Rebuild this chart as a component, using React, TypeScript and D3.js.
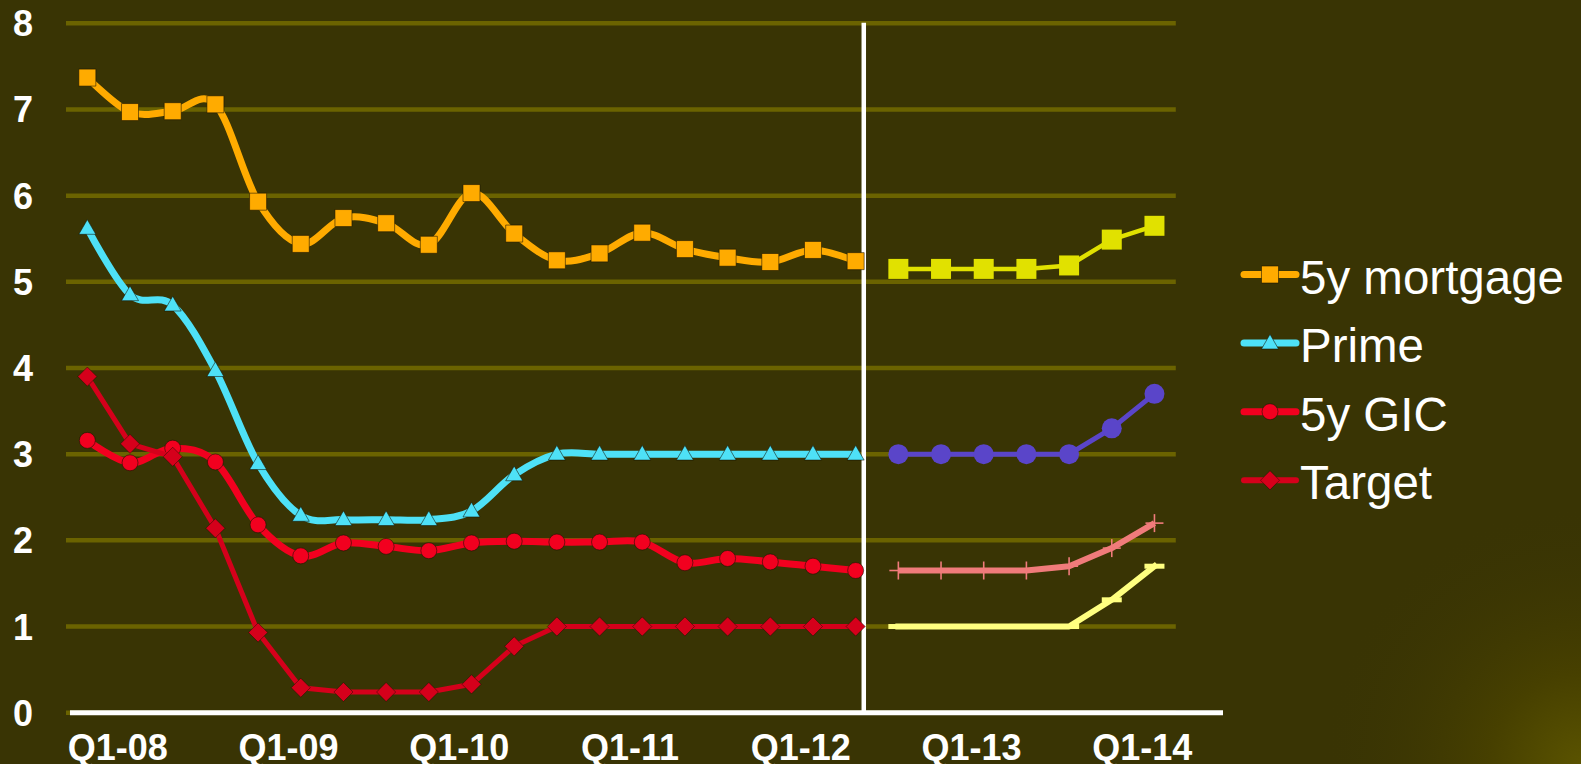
import React from 'react';
import * as d3 from 'd3';

const W = 1581;
const H = 764;

const categories = [
  'Q1-08','Q2-08','Q3-08','Q4-08',
  'Q1-09','Q2-09','Q3-09','Q4-09',
  'Q1-10','Q2-10','Q3-10','Q4-10',
  'Q1-11','Q2-11','Q3-11','Q4-11',
  'Q1-12','Q2-12','Q3-12','Q4-12',
  'Q1-13','Q2-13','Q3-13','Q4-13',
  'Q1-14','Q2-14',
];
const xTickLabels = ['Q1-08','Q1-09','Q1-10','Q1-11','Q1-12','Q1-13','Q1-14'];
const yTicks = [0, 1, 2, 3, 4, 5, 6, 7, 8];

// Historical (Q1-08 .. Q3-12)
const mortgage = [7.37, 6.97, 6.98, 7.06, 5.93, 5.44, 5.74, 5.68, 5.43, 6.03, 5.56, 5.25, 5.33, 5.57, 5.38, 5.28, 5.23, 5.37, 5.24];
const prime = [5.62, 4.85, 4.73, 3.97, 2.89, 2.29, 2.24, 2.24, 2.24, 2.34, 2.76, 3.0, 3.0, 3.0, 3.0, 3.0, 3.0, 3.0, 3.0];
const gic = [3.16, 2.9, 3.07, 2.91, 2.18, 1.82, 1.97, 1.93, 1.88, 1.97, 1.99, 1.98, 1.98, 1.98, 1.74, 1.79, 1.75, 1.7, 1.65];
const target = [3.9, 3.12, 2.97, 2.14, 0.93, 0.29, 0.24, 0.24, 0.24, 0.33, 0.77, 1.0, 1.0, 1.0, 1.0, 1.0, 1.0, 1.0, 1.0];

// Forecast (Q4-12 .. Q2-14)
const mortgageFcst = [5.15, 5.15, 5.15, 5.15, 5.19, 5.49, 5.65];
const primeFcst = [3.0, 3.0, 3.0, 3.0, 3.0, 3.3, 3.7];
const gicFcst = [1.65, 1.65, 1.65, 1.65, 1.7, 1.91, 2.2];
const targetFcst = [1.0, 1.0, 1.0, 1.0, 1.0, 1.31, 1.7];

const legendLabels = ['5y mortgage', 'Prime', '5y GIC', 'Target'];

const FONT = '"Liberation Sans", Arial, sans-serif';
const BG = '#393404';
const GRID = '#6b6300';

const C_MORT = '#ffab00';
const C_PRIME = '#4ee1f7';
const C_GIC = '#f2001f';
const C_TARGET = '#d5001b';
const C_MORT_F = '#e1e100';
const C_PRIME_F = '#5a45c9';
const C_GIC_F = '#f07b7b';
const C_TARGET_F = '#ffff80';

const x = d3.scaleBand<string>().domain(categories).range([66, 1175.8]).padding(0);
const bw = x.bandwidth();
const xc = (c: string) => (x(c) as number) + bw / 2;
const y = d3.scaleLinear().domain([0, 8]).range([712.7, 23.3]);

type Pt = { c: string; v: number };
const hist = (arr: number[]): Pt[] => arr.map((v, i) => ({ c: categories[i], v }));
const fcst = (arr: number[]): Pt[] => arr.map((v, i) => ({ c: categories[mortgage.length + i], v }));

const smoothLine = d3.line<Pt>().x(d => xc(d.c)).y(d => y(d.v)).curve(d3.curveCardinal.tension(0));
const straightLine = d3.line<Pt>().x(d => xc(d.c)).y(d => y(d.v));

const sq = (side: number) => d3.symbol().type(d3.symbolSquare).size(side * side)() as string;
const tri = (side: number) => d3.symbol().type(d3.symbolTriangle).size((side * side * Math.sqrt(3)) / 4)() as string;
const circ = (r: number) => d3.symbol().type(d3.symbolCircle).size(Math.PI * r * r)() as string;

const MARK_STROKE = 'rgba(20,16,0,0.55)';

function Marker({ kind, color, cx, cy, big }: { kind: string; color: string; cx: number; cy: number; big?: boolean }) {
  if (kind === 'square') {
    return <path d={sq(big ? 20 : 17)} transform={`translate(${cx},${cy})`} fill={color} stroke={big ? 'none' : MARK_STROKE} strokeWidth={1} />;
  }
  if (kind === 'triangle') {
    return <path d={tri(big ? 15 : 17)} transform={`translate(${cx},${cy + 1})`} fill={color} stroke={MARK_STROKE} strokeWidth={1} />;
  }
  if (kind === 'circle') {
    return <path d={circ(big ? 10 : 8)} transform={`translate(${cx},${cy})`} fill={color} stroke={big ? 'none' : MARK_STROKE} strokeWidth={1} />;
  }
  if (kind === 'diamond') {
    return <path d={sq(13.5)} transform={`translate(${cx},${cy}) rotate(45)`} fill={color} stroke={MARK_STROKE} strokeWidth={0.8} />;
  }
  if (kind === 'plus') {
    return (
      <g transform={`translate(${cx},${cy})`} stroke={color} strokeWidth={1.6}>
        <line x1={-9} x2={9} y1={0} y2={0} />
        <line x1={0} x2={0} y1={-9} y2={9} />
      </g>
    );
  }
  if (kind === 'dash') {
    return <rect x={cx - 10} y={cy - 2.5} width={20} height={5} fill={color} />;
  }
  return null;
}

type Series = { data: Pt[]; color: string; width: number; smooth: boolean; kind: string; big?: boolean };

const seriesList: Series[] = [
  { data: hist(mortgage), color: C_MORT, width: 7, smooth: true, kind: 'square' },
  { data: hist(prime), color: C_PRIME, width: 7, smooth: true, kind: 'triangle' },
  { data: hist(gic), color: C_GIC, width: 7, smooth: true, kind: 'circle' },
  { data: hist(target), color: C_TARGET, width: 5, smooth: false, kind: 'diamond' },
  { data: fcst(mortgageFcst), color: C_MORT_F, width: 4.5, smooth: false, kind: 'square', big: true },
  { data: fcst(primeFcst), color: C_PRIME_F, width: 5, smooth: false, kind: 'circle', big: true },
  { data: fcst(gicFcst), color: C_GIC_F, width: 6, smooth: false, kind: 'plus' },
  { data: fcst(targetFcst), color: C_TARGET_F, width: 6, smooth: false, kind: 'dash' },
];

const legendItems = [
  { label: legendLabels[0], color: C_MORT, kind: 'square' },
  { label: legendLabels[1], color: C_PRIME, kind: 'triangle' },
  { label: legendLabels[2], color: C_GIC, kind: 'circle' },
  { label: legendLabels[3], color: C_TARGET, kind: 'diamond' },
];

export default function App() {
  React.useEffect(() => {
    document.body.style.margin = '0';
    document.body.style.overflow = 'hidden';
  }, []);

  const sepX = xc(categories[mortgage.length - 1]) + bw * 0.19;

  return (
    <svg width={W} height={H} style={{ position: 'absolute', left: 0, top: 0, display: 'block' }} xmlns="http://www.w3.org/2000/svg">
      <defs>
        <radialGradient id="glow" cx={W} cy={H} r={260} gradientUnits="userSpaceOnUse">
          <stop offset="0" stopColor="#5a5300" />
          <stop offset="0.35" stopColor="#474000" />
          <stop offset="1" stopColor={BG} stopOpacity={0} />
        </radialGradient>
      </defs>
      <rect x={0} y={0} width={W} height={H} fill={BG} />
      <rect x={0} y={0} width={W} height={H} fill="url(#glow)" />

      {/* gridlines */}
      {yTicks.map(t => (
        <line key={t} x1={x.range()[0]} x2={x.range()[1]} y1={y(t)} y2={y(t)} stroke={GRID} strokeWidth={4.5} />
      ))}

      {/* y tick labels */}
      {yTicks.map(t => (
        <text key={t} x={23} y={y(t) + 13} textAnchor="middle" fontFamily={FONT} fontWeight="bold" fontSize={36} fill="#ffffff">
          {t}
        </text>
      ))}

      {/* separator */}
      <line x1={sepX} x2={sepX} y1={y(8) - 0.5} y2={y(0)} stroke="#ffffff" strokeWidth={4.5} />

      {/* x axis */}
      <line x1={70} x2={1223} y1={y(0)} y2={y(0)} stroke="#ffffff" strokeWidth={5} />

      {/* x tick labels */}
      {xTickLabels.map(l => (
        <text key={l} x={xc(l) + 30.5} y={760} textAnchor="middle" fontFamily={FONT} fontWeight="bold" fontSize={36} fill="#ffffff">
          {l}
        </text>
      ))}

      {/* series */}
      {seriesList.map((s, i) => (
        <g key={i}>
          <path
            d={(s.smooth ? smoothLine : straightLine)(s.data) as string}
            fill="none"
            stroke={s.color}
            strokeWidth={s.width}
            strokeLinejoin="round"
            strokeLinecap={s.kind === 'dash' ? 'square' : 'butt'}
          />
          {s.data.map((d, j) => (
            <Marker key={j} kind={s.kind} color={s.color} cx={xc(d.c)} cy={y(d.v)} big={s.big} />
          ))}
        </g>
      ))}

      {/* legend */}
      {legendItems.map((it, k) => {
        const base = 293.5 + 68.6 * k;
        const ly = base - 19;
        return (
          <g key={it.label}>
            <line x1={1244} x2={1296} y1={ly} y2={ly} stroke={it.color} strokeWidth={it.kind === 'diamond' ? 6 : 7} strokeLinecap="round" />
            <Marker kind={it.kind} color={it.color} cx={1270} cy={ly} />
            <text x={1300} y={base} fontFamily={FONT} fontSize={47.5} fill="#ffffff">
              {it.label}
            </text>
          </g>
        );
      })}
    </svg>
  );
}
